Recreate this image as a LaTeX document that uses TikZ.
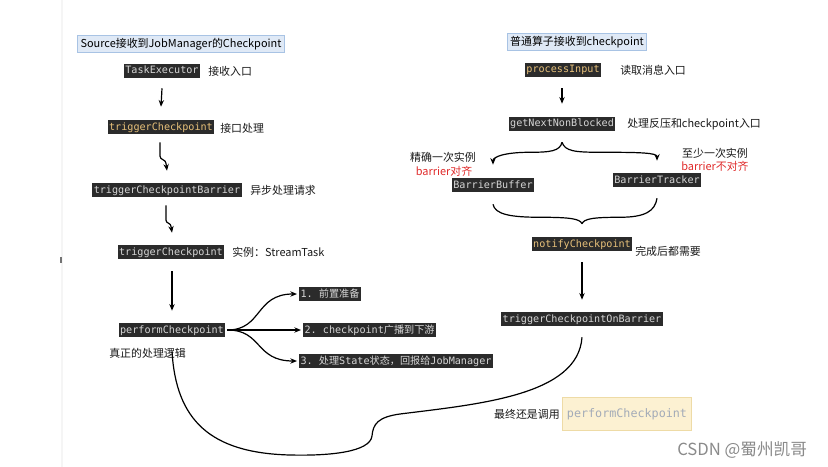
\documentclass[tikz,border=0pt]{standalone}
\usepackage{fontspec}
\setmainfont{Noto Sans CJK SC}
\setmonofont{DejaVu Sans Mono}
\newfontfamily\cjk{Noto Sans CJK SC}
\usetikzlibrary{arrows.meta,calc}
\definecolor{codebg}{HTML}{2B2B2B}
\definecolor{cy}{HTML}{E8C17A}
\definecolor{cw}{HTML}{D6D6D6}
\definecolor{cred}{HTML}{E02B2B}
\definecolor{tbg}{HTML}{DFE9F6}
\definecolor{tbd}{HTML}{A8C3E4}
\definecolor{ybg}{HTML}{FCF1D2}
\definecolor{ybd}{HTML}{EEDBA6}
\definecolor{pfc}{HTML}{A3ABB8}
\definecolor{wm}{HTML}{8A8A8A}
\begin{document}
\begin{tikzpicture}[x=0.75pt,y=-0.75pt,
  code/.style={fill=codebg,text=cw,font=\ttfamily\fontsize{7.6}{8}\selectfont,inner xsep=1pt,inner ysep=1.5pt,text height=6pt,text depth=1.5pt},
  codey/.style={code,text=cy},
  lbl/.style={font=\fontsize{8.2}{9}\selectfont,inner sep=0pt,text=black!90},
  redlbl/.style={lbl,text=cred},
  titlebox/.style={fill=tbg,draw=tbd,line width=0.6pt,font=\fontsize{8.2}{9}\selectfont,inner xsep=2pt,inner ysep=2pt},
  arr/.style={-{Stealth[length=5pt,width=4pt]},line width=0.9pt},
  crv/.style={line width=0.9pt}
]
\useasboundingbox[fill=white] (0,0) rectangle (828,467);
\draw[black!4,line width=1.5pt] (62,0) -- (62,467);
\draw[black!55,line width=0.8pt] (61,257) -- (61,263);

% ---------- left column ----------
\node[titlebox] (t1) at (181,44) {Source接收到JobManager的Checkpoint};
\node[code] (te) at (162,71) {TaskExecutor};
\node[lbl,anchor=west] (tel) at (208,71) {接收入口};
\node[codey] (tc1) at (161,127) {triggerCheckpoint};
\node[lbl,anchor=west] (tc1l) at (220,128) {接口处理};
\node[code] (tcb) at (167,190) {triggerCheckpointBarrier};
\node[lbl,anchor=west] (tcbl) at (250,190) {异步处理请求};
\node[code] (tc2) at (171,252) {triggerCheckpoint};
\node[lbl,anchor=west] (tc2l) at (232,252) {实例：StreamTask};
\node[code] (pc) at (172,330) {performCheckpoint};
\node[lbl,anchor=west] (pcl) at (109,353) {真正的处理逻辑};
\node[code,anchor=west] (s1) at (299,294) {1. {\cjk 前置准备}};
\node[code,anchor=west] (s2) at (303,330) {2. checkpoint{\cjk 广播到下游}};
\node[code,anchor=west] (s3) at (299,361) {3. {\cjk 处理}State{\cjk 状态，回报给}JobManager};

\draw[arr] ($(te.south)+(0,10)$) -- ($(tc1.north)+(0,-13)$);
\draw[arr] ($(tc1.south)+(-1,8)$) -- ++(0,14) to[out=-90,in=90] ++(6,7) -- ($(tcb.north)+(0,-12)$);
\draw[arr] ($(tcb.south)+(-1,8)$) -- ++(0,15) to[out=-90,in=90] ++(5,6) -- ($(tc2.north)+(1,-12)$);
\draw[arr] ($(tc2.south)+(1,12)$) -- ($(pc.north)+(0,-12)$);
\draw[arr] ($(pc.east)+(2,0)$) .. controls +(35,0) and +(-42,0) .. ($(s1.west)+(-2,0)$);
\draw[arr] ($(pc.east)+(2,0)$) -- ($(s2.west)+(-2,0)$);
\draw[arr] ($(pc.east)+(2,0)$) .. controls +(35,0) and +(-42,0) .. ($(s3.west)+(-2,0)$);

% ---------- right column ----------
\node[titlebox] (t2) at (577,42) {普通算子接收到checkpoint};
\node[codey] (pi) at (563,70) {processInput};
\node[lbl,anchor=west] (pil) at (620,70) {读取消息入口};
\node[code] (gn) at (562,124) {getNextNonBlocked};
\node[lbl,anchor=west] (gnl) at (627,124) {处理反压和checkpoint入口};
\node[lbl] (exl) at (443,157) {精确一次实例};
\node[redlbl] (exr) at (444,171) {barrier对齐};
\node[lbl] (alr) at (715,153) {至少一次实例};
\node[redlbl] (alrr) at (715,166) {barrier不对齐};
\node[code] (bb) at (493,185) {BarrierBuffer};
\node[code] (bt) at (657,180) {BarrierTracker};
\node[codey] (nc) at (582,244) {notifyCheckpoint};
\node[lbl,anchor=west] (ncl) at (635,251) {完成后都需要};
\node[code] (tob) at (582,319) {triggerCheckpointOnBarrier};

\coordinate (cu) at ($(gn.south)+(0,11)$);
\draw[arr] ($(pi.south)+(-1,11)$) -- ($(gn.north)+(0,-13)$);
\draw[arr] (cu) .. controls +(-2,9) and +(20,0) .. ++(-32,10) .. controls +(-25,0) and +(0,-8) .. ($(bb.north)+(0,-13)$);
\draw[arr] (cu) .. controls +(3,9) and +(-25,0) .. ++(38,10) .. controls +(40,0) and +(0,-8) .. ($(bt.north)+(0,-12)$);

\coordinate (cd) at ($(nc.north)+(0,-13)$);
\draw[crv] ($(bb.south)+(0,12)$) .. controls +(2,10) and +(-30,0) .. ++(47,13) .. controls +(30,0) and +(-2,-5) .. (cd);
\draw[crv] ($(bt.south)+(0,11)$) .. controls +(-2,13) and +(25,0) .. ++(-37,19) .. controls +(-27,0) and +(2,-5) .. (cd);

\draw[arr] ($(nc.south)+(0,11)$) -- ($(tob.north)+(0,-12)$);

% ---------- bottom ----------
\node[lbl,anchor=east] (fin) at (560,414) {最终还是调用};
\node[fill=ybg,draw=ybd,line width=0.6pt,minimum width=95pt,minimum height=25pt,text=pfc,font=\ttfamily\fontsize{8.8}{9}\selectfont] (pf) at (627,414) {performCheckpoint};

\draw[crv] ($(tob.south)+(0,11)$) .. controls +(-4,58) and +(80,-10) .. (400,414)
  .. controls (378,417) and (373,424) .. (372,436)
  .. controls (370,452) and (330,456) .. (290,455)
  .. controls (210,453) and (176,420) .. ($(pc.south)+(0,14)$);

\node[font=\fontsize{12.5}{13}\selectfont,text=wm,anchor=west,inner sep=0pt] (wmk) at (677,450) {CSDN @蜀州凯哥};
\end{tikzpicture}
\end{document}
